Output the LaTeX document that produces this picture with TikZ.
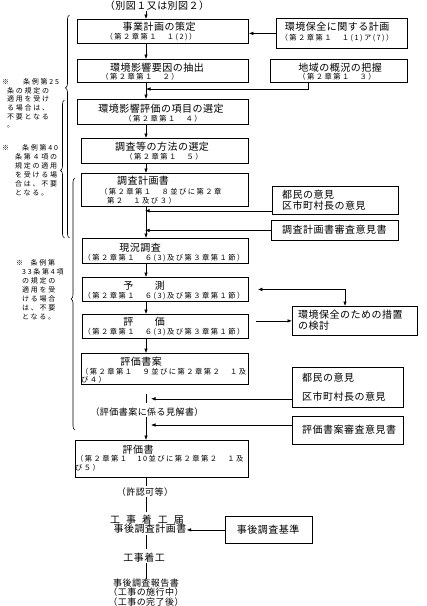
\documentclass[tikz,border=0pt]{standalone}
\usepackage{fontspec}
\usepackage{tikz}
\usetikzlibrary{arrows.meta,decorations.pathreplacing}
\setmainfont{Noto Sans CJK JP}
\newfontfamily\jptitle[LetterSpace=5]{Noto Sans CJK JP}
\newfontfamily\jpsub[LetterSpace=20]{Noto Sans CJK JP}
\newfontfamily\jpnote[LetterSpace=25]{Noto Sans CJK JP}
\newfontfamily\jpwide[LetterSpace=60]{Noto Sans CJK JP}

\begin{document}
\begin{tikzpicture}[x=1pt, y=-1pt,
    box/.style={draw, line width=0.8pt, inner sep=0pt, anchor=north west},
    ttl/.style={inner sep=0pt, font=\jptitle\fontsize{10}{11}\selectfont},
    small/.style={inner sep=0pt, font=\jptitle\fontsize{9}{9.5}\selectfont},
    sub/.style={inner sep=0pt, font=\jpsub\fontsize{7.3}{8}\selectfont},
    note/.style={inner sep=0pt, anchor=north west, align=left, font=\jpnote\fontsize{7}{9}\selectfont},
    conn/.style={line width=0.6pt},
    arr/.style={conn, -{Latex[length=4.5pt,width=3.5pt]}},
    darr/.style={conn, {Latex[length=4.5pt,width=3.5pt]}-{Latex[length=4.5pt,width=3.5pt]}},
    brc/.style={line width=0.6pt, decorate, decoration={brace, amplitude=4pt, aspect=#1}}]
    \useasboundingbox (0,0) rectangle (427,606);
    \coordinate (sp) at (146,0);

    % main column
    \node[ttl] (t0) at (157,6) {（別図１又は別図２）};
    \node[box, minimum width=171, minimum height=24] (b1) at (77,19) {};
    \node[ttl] (b1t) at (159,27) {事業計画の策定};
    \node[sub] (b1s) at (151,37) {（第２章第１　１(2)）};
    \node[box, minimum width=171, minimum height=23] (b2) at (77,59) {};
    \node[ttl] (b2t) at (157,68) {環境影響要因の抽出};
    \node[sub] (b2s) at (140,77) {（第２章第１　２）};
    \node[box, minimum width=171, minimum height=25] (b3) at (77,99) {};
    \node[ttl] (b3t) at (161,109) {環境影響評価の項目の選定};
    \node[sub] (b3s) at (163,119) {（第２章第１　４）};
    \node[box, minimum width=167, minimum height=25] (b4) at (81,138) {};
    \node[ttl] (b4t) at (162,147) {調査等の方法の選定};
    \node[sub] (b4s) at (164,157) {（第２章第１　５）};
    \node[box, minimum width=167, minimum height=33] (b5) at (81,173) {};
    \node[ttl] (b5t) at (143,181) {調査計画書};
    \node[sub, anchor=west] (b5s) at (100,192) {（第２章第１　８並びに第２章};
    \node[sub, anchor=west] (b5u) at (107,201) {第２　１及び３）};
    \node[box, minimum width=166, minimum height=25] (b6) at (82,238) {};
    \node[ttl] (b6t) at (140,248) {現況調査};
    \node[sub] (b6s) at (164,258) {（第２章第１　６(3)及び第３章第１節）};
    \node[box, minimum width=166, minimum height=24] (b7) at (82,277) {};
    \node[ttl] (b7t) at (144,286) {予　　測};
    \node[sub] (b7s) at (164,296) {（第２章第１　６(3)及び第３章第１節）};
    \node[box, minimum width=166, minimum height=24] (b8) at (82,314) {};
    \node[ttl] (b8t) at (144,322) {評　　価};
    \node[sub] (b8s) at (164,332) {（第２章第１　６(3)及び第３章第１節）};
    \node[box, minimum width=167, minimum height=31] (b9) at (81,353) {};
    \node[ttl] (b9t) at (141,362) {評価書案};
    \node[sub, anchor=west] (b9s) at (81,372) {（第２章第１　９並びに第２章第２　１及};
    \node[sub, anchor=west] (b9u) at (81,380) {び４）};
    \node[small] (t6) at (147,412) {（評価書案に係る見解書）};
    \node[box, minimum width=173, minimum height=37] (b10) at (75,440) {};
    \node[ttl] (b10t) at (138,450) {評価書};
    \node[sub, anchor=west] (b10s) at (76,459) {（第２章第１　10並びに第２章第２　１及};
    \node[sub, anchor=west] (b10u) at (75,468) {び５）};
    \node[small] (t1) at (145,492) {（許認可等）};
    \node[inner sep=0pt, font=\jpwide\fontsize{10}{11}\selectfont] (t2) at (147,520) {工事着工届};
    \node[ttl] (t3) at (150,529) {事後調査計画書};
    \node[ttl] (t4) at (144,558) {工事着工};
    \node[small, anchor=north, align=center] (t5) at (146,578.5) {事後調査報告書\\（工事の施行中）\\（工事の完了後）};

    % side boxes
    \node[box, minimum width=131, minimum height=30] (r1) at (276,18) {};
    \node[ttl] (r1t) at (337,27) {環境保全に関する計画};
    \node[sub] (r1s) at (337,38) {（第２章第１　１(1)ア(7)）};
    \node[box, minimum width=137, minimum height=23] (r2) at (270,59) {};
    \node[ttl] (r2t) at (340,68) {地域の概況の把握};
    \node[sub] (r2s) at (337,77) {（第２章第１　３）};
    \node[box, minimum width=126, minimum height=28] (r3) at (272,186) {};
    \node[ttl, anchor=north west, align=left] (r3t) at (282,190) {都民の意見\\区市町村長の意見};
    \node[box, minimum width=127, minimum height=20] (r4) at (271,220) {};
    \node[ttl, anchor=west] (r4t) at (282,230) {調査計画書審査意見書};
    \node[box, minimum width=125, minimum height=29] (r5) at (292,306) {};
    \node[ttl, anchor=north west, align=left] (r5t) at (298,310) {環境保全のための措置\\の検討};
    \node[box, minimum width=111, minimum height=40] (r6) at (292,367) {};
    \node[ttl, anchor=north west, align=left, font=\jptitle\fontsize{10}{19}\selectfont] (r6t) at (302,373) {都民の意見\\区市町村長の意見};
    \node[box, minimum width=111, minimum height=28] (r7) at (292,416) {};
    \node[ttl, anchor=west] (r7t) at (302,430) {評価書案審査意見書};
    \node[box, minimum width=87, minimum height=27] (r8) at (225,516) {};
    \node[ttl] (r8t) at (268,529.5) {事後調査基準};

    % connectors
    \draw[arr] (t0.south -| sp) -- (b1.north -| sp);
    \draw[arr] (b1.south -| sp) -- (b2.north -| sp);
    \draw[arr] (b2.south -| sp) -- (b3.north -| sp);
    \draw[arr] (b3.south -| sp) -- (b4.north -| sp);
    \draw[arr] (b4.south -| sp) -- (b5.north -| sp);
    \draw[arr] (b5.south -| sp) -- (b6.north -| sp);
    \draw[arr] (b6.south -| sp) -- (b7.north -| sp);
    \draw[arr] (b7.south -| sp) -- (b8.north -| sp);
    \draw[arr] (b8.south -| sp) -- (b9.north -| sp);
    \draw[conn, shorten <=9pt, shorten >=5pt] (b9.south -| sp) -- (t6.north -| sp);
    \draw[arr, shorten <=1pt] (t6.south -| sp) -- (b10.north -| sp);
    \draw[conn, shorten >=2pt] (b10.south -| sp) -- (t1.north -| sp);
    \draw[conn, shorten <=1pt, shorten >=3pt] (t1.south -| sp) -- (t2.north -| sp);
    \draw[conn, shorten <=1pt, shorten >=4pt] (t3.south -| sp) -- (t4.north -| sp);
    \draw[conn] (t4.south -| sp) -- (t5.north -| sp);

    \draw[arr] (r1.west) -- (r1.west -| b1.east);
    \coordinate (k2) at (308,89);
    \draw[arr] (r2.south -| k2) -- (k2) -- (k2 -| sp);
    \coordinate (c3) at ([yshift=4pt]r3.south west);
    \draw[arr, shorten >=-1pt] (c3) -- (c3 -| sp);
    \draw[arr, shorten >=-1pt] (r4.west) -- (r4.west -| sp);
    \coordinate (q7) at ([xshift=9pt]b7.east);
    \coordinate (k5) at (345,0);
    \draw[darr] (q7) -| (r5.north -| k5);
    \coordinate (q8) at ([xshift=7pt]b8.east);
    \draw[arr] (q8 |- r5.west) -- (r5.west);
    \coordinate (c6) at ([yshift=9pt]r6.south west);
    \draw[arr, shorten >=5pt] (c6) -- (c6 -| sp);
    \coordinate (c7) at ([yshift=-9pt]r7.north west);
    \draw[arr, shorten >=5pt] (c7) -- (c7 -| sp);
    \draw[arr] (r8.west) -- (r8.west -| t3.east);

    % braces and notes
    \draw[brc=0.673] (69.5,238) -- (69.5,15);
    \draw[brc=0.49] (64.5,238) -- (64.5,100);
    \draw[brc=0.52] (75,430) -- (75,178);
    \node[note, font=\jpnote\fontsize{7}{8.6}\selectfont] (n1) at (2,78.5) {※\hspace{14pt}条例第25\\\hspace*{5pt}条の規定の\\\hspace*{5pt}適用を受け\\\hspace*{5pt}る場合は、\\\hspace*{5pt}不要となる\\\hspace*{5pt}。};
    \node[note] (n2) at (2,144.5) {※\hspace{13pt}条例第40\\\hspace*{13pt}条第４項の\\\hspace*{13pt}規定の適用\\\hspace*{13pt}を受ける場\\\hspace*{13pt}合は、不要\\\hspace*{13pt}となる。};
    \node[note] (n3) at (16,259.5) {※\hspace{7.5pt}条例第\\\hspace*{6pt}33条第4項\\\hspace*{6pt}の規定の\\\hspace*{6pt}適用を受\\\hspace*{6pt}ける場合\\\hspace*{6pt}は、不要\\\hspace*{6pt}となる。};
\end{tikzpicture}
\end{document}
